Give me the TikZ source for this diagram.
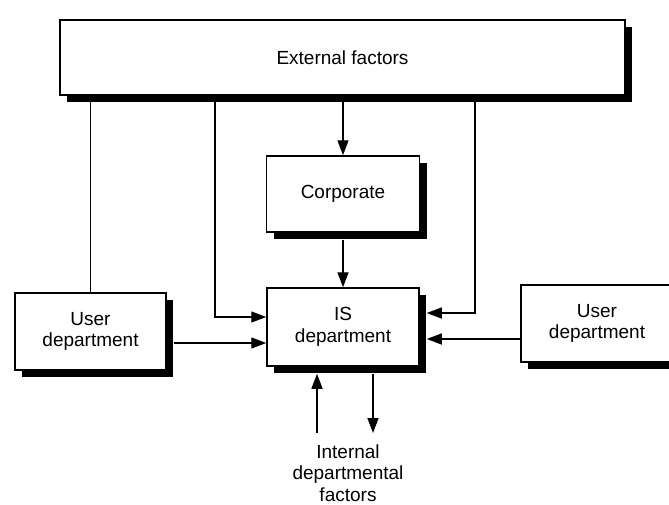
\documentclass[tikz,border=0pt]{standalone}
\usepackage{fontspec}
\setmainfont{Liberation Sans}
\usetikzlibrary{arrows.meta, positioning, shadows}

\begin{document}
\begin{tikzpicture}[
  x=1pt, y=-1pt,
  font=\fontsize{19}{21.5}\selectfont,
  box/.style={draw, rectangle, line width=1.5pt, fill=white, align=center, inner sep=0pt,
    general shadow={fill=black, shadow xshift=7pt, shadow yshift=-7pt}},
  arrow/.style={-{Triangle[length=15pt, width=11pt]}, line width=1.4pt},
  link/.style={line width=1.4pt}
]
\useasboundingbox (0,0) rectangle (669,504);
\clip (0,0) rectangle (669,504);

\node[box, minimum width=565pt, minimum height=75pt] (ext) at (342.5,57.5) {External factors};
\node[box, minimum width=153pt, minimum height=76pt] (corp) at (343,194) {Corporate};
\node[box, minimum width=152pt, minimum height=78pt] (is) at (343,327) {IS\\department};
\node[box, minimum width=151pt, minimum height=77pt] (userl) at (90.5,331.5) {User\\department};
\node[box, minimum width=152pt, minimum height=77pt] (userr) at (597,323.5) {User\\department};
\node[align=center] (intern) at (348,473) {Internal\\departmental\\factors};

% shadow edges and bends
\coordinate (isbot) at ([yshift=-7pt]is.south);
\coordinate (bendl) at (215,317);
\coordinate (bendr) at (475,313);
\coordinate (upfoot) at (317,433);
\coordinate (downtip) at (373,433);

\draw[arrow] (ext.south -| corp.north) -- (corp.north);
\draw[arrow] ([yshift=-7pt]corp.south) -- (is.north);
\draw[link] (ext.south -| userl.north) -- (userl.north);
\draw[arrow] (ext.south -| bendl) |- ([yshift=10pt]is.west);
\draw[arrow] (ext.south -| bendr) |- ([xshift=7pt, yshift=14pt]is.east);
\draw[arrow] ([xshift=7pt, yshift=-11.5pt]userl.east) -- ([yshift=-16pt]is.west);
\draw[arrow] ([yshift=-15.5pt]userr.west) -- ([xshift=7pt, yshift=-12pt]is.east);
\draw[arrow] (upfoot) -- (upfoot |- isbot);
\draw[arrow] (downtip |- isbot) -- (downtip);
\end{tikzpicture}
\end{document}
